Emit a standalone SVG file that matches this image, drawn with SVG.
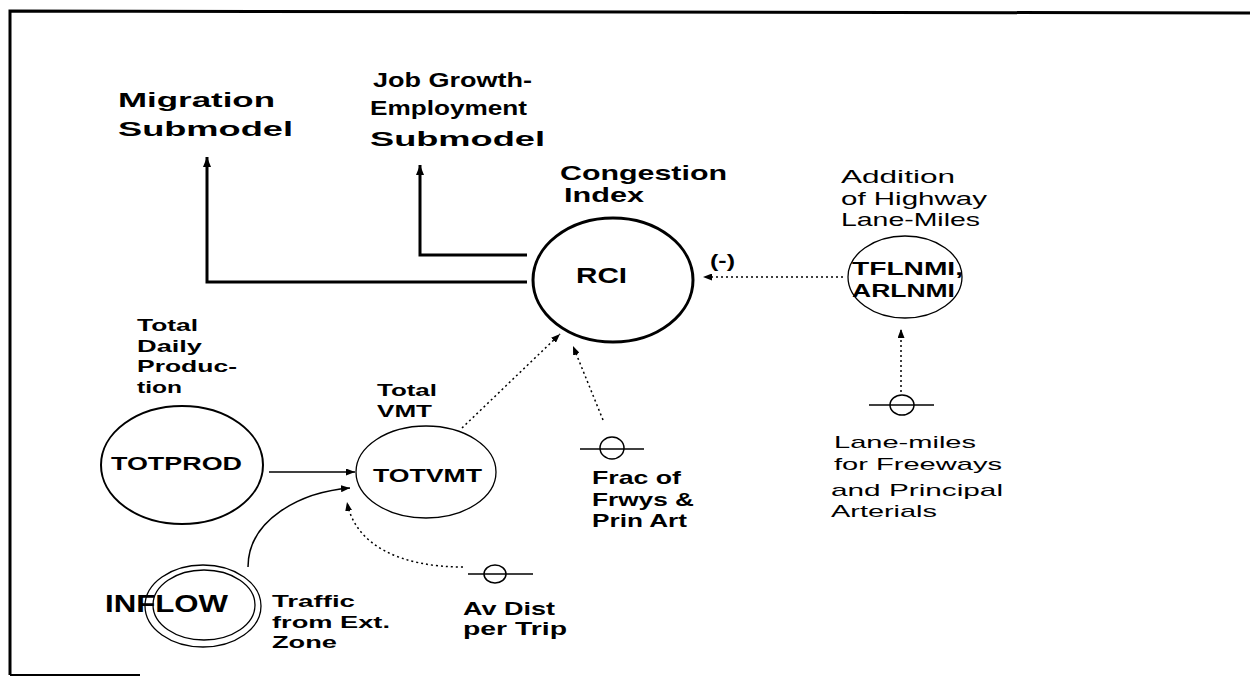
<svg xmlns="http://www.w3.org/2000/svg" width="1250" height="677" viewBox="0 0 1250 677">
<style>
text{font-family:"Liberation Sans",Arial,sans-serif;font-weight:bold;fill:#000}
.h{font-size:21px}
.s{font-size:17px}
.m{font-size:19px}
.n{font-weight:normal}
.node{fill:#fff;stroke:#000}
.thick{fill:none;stroke:#000;stroke-width:3}
.dot{fill:none;stroke:#000;stroke-width:1.5;stroke-dasharray:2,3}
.solid{fill:none;stroke:#000;stroke-width:1.5}
.src{fill:#fff;stroke:#000;stroke-width:1.5}
</style>
<defs>
<marker id="ah" markerUnits="userSpaceOnUse" markerWidth="10" markerHeight="8" refX="10" refY="4" orient="auto">
<path d="M0,0 L10,4 L0,8 z" fill="#000"/>
</marker>
<marker id="ahs" markerUnits="userSpaceOnUse" markerWidth="9" markerHeight="7" refX="9" refY="3.5" orient="auto">
<path d="M0,0 L9,3.5 L0,7 z" fill="#000"/>
</marker>
</defs>
<g id="frame" fill="none" stroke="#000" stroke-width="3">
<path d="M10,675 L10,11 L1250,13"/>
<path d="M10,675 L140,675" stroke-width="2"/>
</g>
<g id="connectors">
<polyline class="thick" points="527,282 207,282 207,157" marker-end="url(#ah)"/>
<polyline class="thick" points="527,255 420,255 420,165" marker-end="url(#ah)"/>
<line class="dot" x1="843" y1="277" x2="703" y2="277" marker-end="url(#ahs)"/>
<line class="dot" x1="901" y1="392" x2="901" y2="329" marker-end="url(#ahs)"/>
<line class="dot" x1="462" y1="428" x2="560" y2="334" marker-end="url(#ahs)"/>
<line class="dot" x1="603" y1="420" x2="573" y2="346" marker-end="url(#ahs)"/>
<line class="solid" x1="269" y1="472" x2="355" y2="472" marker-end="url(#ahs)"/>
<path class="solid" d="M248,567 C248,520 300,492 350,488" marker-end="url(#ahs)"/>
<path class="dot" d="M463,567 C400,567 355,545 347,502" marker-end="url(#ahs)"/>
</g>
<g id="migration">
<text class="h" x="118" y="107" textLength="157" lengthAdjust="spacingAndGlyphs">Migration</text>
<text class="h" x="118" y="136" textLength="175" lengthAdjust="spacingAndGlyphs">Submodel</text>
</g>
<g id="jobgrowth">
<text class="h" x="373" y="87" textLength="159" lengthAdjust="spacingAndGlyphs">Job Growth-</text>
<text class="h" x="370" y="115" textLength="157" lengthAdjust="spacingAndGlyphs">Employment</text>
<text class="h" x="370" y="146" textLength="175" lengthAdjust="spacingAndGlyphs">Submodel</text>
</g>
<g id="rci">
<text class="h" x="560" y="180" textLength="167" lengthAdjust="spacingAndGlyphs">Congestion</text>
<text class="h" x="564" y="202" textLength="80" lengthAdjust="spacingAndGlyphs">Index</text>
<ellipse class="node" cx="613" cy="280" rx="80" ry="62" stroke-width="3"/>
<text x="576" y="283" style="font-size:22px" textLength="51" lengthAdjust="spacingAndGlyphs">RCI</text>
<text class="m" x="710" y="267" textLength="25" lengthAdjust="spacingAndGlyphs">(-)</text>
</g>
<g id="tflnmi">
<text class="m n" x="841" y="183" textLength="114" lengthAdjust="spacingAndGlyphs">Addition</text>
<text class="m n" x="841" y="205" textLength="146" lengthAdjust="spacingAndGlyphs">of Highway</text>
<text class="m n" x="841" y="226" textLength="139" lengthAdjust="spacingAndGlyphs">Lane-Miles</text>
<ellipse class="node" cx="905" cy="277" rx="57" ry="41" stroke-width="1.3"/>
<text class="m" x="852" y="275" textLength="111" lengthAdjust="spacingAndGlyphs">TFLNMI,</text>
<text class="m" x="852" y="297" textLength="103" lengthAdjust="spacingAndGlyphs">ARLNMI</text>
</g>
<g id="lanemiles">
<ellipse class="src" cx="902" cy="405" rx="12" ry="10"/>
<line class="solid" x1="869" y1="405" x2="934" y2="405"/>
<text class="s n" x="834" y="448" textLength="142" lengthAdjust="spacingAndGlyphs">Lane-miles</text>
<text class="s n" x="834" y="470" textLength="168" lengthAdjust="spacingAndGlyphs">for Freeways</text>
<text class="s n" x="831" y="496" textLength="172" lengthAdjust="spacingAndGlyphs">and Principal</text>
<text class="s n" x="831" y="517" textLength="106" lengthAdjust="spacingAndGlyphs">Arterials</text>
</g>
<g id="frac">
<ellipse class="src" cx="612" cy="448" rx="12" ry="11"/>
<line class="solid" x1="580" y1="449" x2="644" y2="449"/>
<text class="m" x="592" y="484" textLength="89" lengthAdjust="spacingAndGlyphs">Frac of</text>
<text class="m" x="592" y="506" textLength="102" lengthAdjust="spacingAndGlyphs">Frwys &amp;</text>
<text class="m" x="592" y="527" textLength="95" lengthAdjust="spacingAndGlyphs">Prin Art</text>
</g>
<g id="totprod">
<text class="s" x="137" y="331" textLength="61" lengthAdjust="spacingAndGlyphs">Total</text>
<text class="s" x="137" y="352" textLength="65" lengthAdjust="spacingAndGlyphs">Daily</text>
<text class="s" x="137" y="372" textLength="100" lengthAdjust="spacingAndGlyphs">Produc-</text>
<text class="s" x="137" y="393" textLength="45" lengthAdjust="spacingAndGlyphs">tion</text>
<ellipse class="node" cx="182" cy="465" rx="81" ry="59" stroke-width="2"/>
<text class="m" x="111" y="470" textLength="131" lengthAdjust="spacingAndGlyphs">TOTPROD</text>
</g>
<g id="totvmt">
<text class="s" x="377" y="396" textLength="60" lengthAdjust="spacingAndGlyphs">Total</text>
<text class="s" x="377" y="417" textLength="55" lengthAdjust="spacingAndGlyphs">VMT</text>
<ellipse class="node" cx="426" cy="472" rx="70" ry="46" stroke-width="1.3"/>
<text class="m" x="373" y="482" textLength="109" lengthAdjust="spacingAndGlyphs">TOTVMT</text>
</g>
<g id="inflow">
<ellipse class="node" cx="203" cy="606" rx="58" ry="41" stroke-width="1.3"/>
<ellipse fill="none" stroke="#000" stroke-width="1.3" cx="204" cy="605" rx="51" ry="35"/>
<text x="105" y="612" style="font-size:23px" textLength="123" lengthAdjust="spacingAndGlyphs">INFLOW</text>
<text class="s" x="272" y="607" textLength="83" lengthAdjust="spacingAndGlyphs">Traffic</text>
<text class="s" x="272" y="628" textLength="118" lengthAdjust="spacingAndGlyphs">from Ext.</text>
<text class="s" x="272" y="648" textLength="65" lengthAdjust="spacingAndGlyphs">Zone</text>
</g>
<g id="avdist">
<ellipse class="src" cx="495" cy="574" rx="11" ry="9"/>
<line class="solid" x1="468" y1="574" x2="533" y2="574"/>
<text class="m" x="463" y="615" textLength="92" lengthAdjust="spacingAndGlyphs">Av Dist</text>
<text class="m" x="463" y="635" textLength="104" lengthAdjust="spacingAndGlyphs">per Trip</text>
</g>
</svg>
